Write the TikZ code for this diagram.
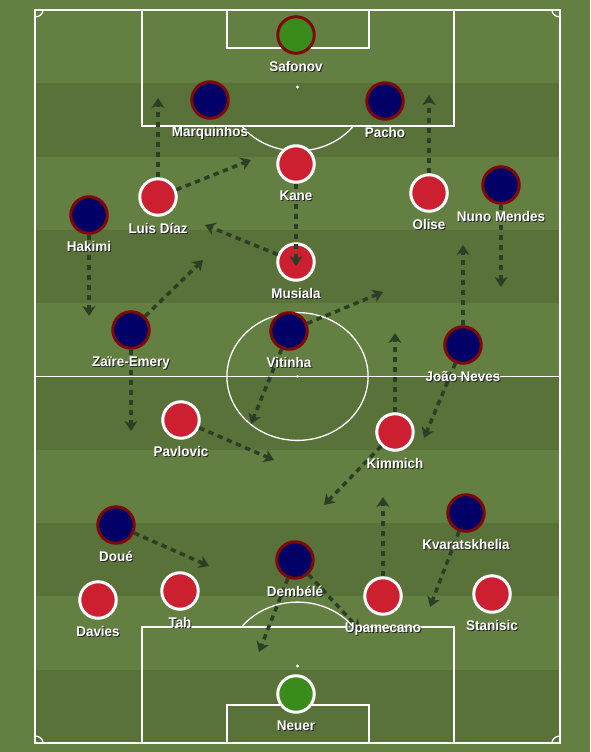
\documentclass[tikz,border=0pt]{standalone}
\usepackage{fontspec}
\newfontfamily\tagfont{Liberation Sans}[FakeStretch=0.96]
\usetikzlibrary{arrows.meta}

\definecolor{grassA}{RGB}{99,128,66}
\definecolor{grassB}{RGB}{88,114,58}
\definecolor{bayred}{RGB}{204,32,48}
\definecolor{psgblue}{RGB}{0,0,102}
\definecolor{psgrim}{RGB}{128,8,8}
\definecolor{keeper}{RGB}{58,138,28}
\definecolor{runcol}{RGB}{45,62,38}

% name/x/y/style/label
\newcommand\squad{safonov/296/35/gkpsg/Safonov,
  marquinhos/210/100/psg/Marquinhos, pacho/385/101/psg/Pacho,
  hakimi/89/215/psg/Hakimi, mendes/501/185/psg/Nuno Mendes,
  zaire/131/330/psg/Zaïre-Emery, vitinha/289/331/psg/Vitinha,
  neves/463/345/psg/João Neves, doue/116/525/psg/Doué,
  dembele/295/560/psg/Dembélé, kvara/466/513/psg/Kvaratskhelia,
  kane/296/164/bayern/Kane, diaz/158/197/bayern/Luis Díaz,
  olise/429/193/bayern/Olise, musiala/296/262/bayern/Musiala,
  pavlovic/181/420/bayern/Pavlovic, kimmich/395/432/bayern/Kimmich,
  davies/98/600/bayern/Davies, tah/180/591/bayern/Tah,
  upamecano/383/596/bayern/Upamecano, stanisic/492/594/bayern/Stanisic,
  neuer/296/694/gkbay/Neuer}

\begin{document}
\begin{tikzpicture}[x=1pt,y=-1pt,
    pitchline/.style={draw=white, line width=1.3pt},
    bayern/.style={circle, fill=bayred, draw=white, line width=3pt,
      minimum size=36.5pt, inner sep=0pt},
    psg/.style={bayern, fill=psgblue, draw=psgrim},
    gkpsg/.style={psg, fill=keeper},
    gkbay/.style={bayern, fill=keeper},
    run/.style={draw=runcol, line width=3.5pt, dash pattern=on 5.5pt off 4.5pt,
      -{Stealth[length=10pt,width=13pt,inset=3pt]}},
    tag/.style={text=white, font=\tagfont\bfseries\fontsize{14}{16}\selectfont,
      inner sep=0pt, anchor=base},
    tagshadow/.style={tag, text=black!85}]

  \useasboundingbox (0,0) rectangle (590,752);
  \fill[grassA] (0,0) rectangle (590,752);

  % stripes
  \foreach \i in {1,3,5,7,9}
    \fill[grassB] (35,{10+73.3*\i}) rectangle (560,{10+73.3*(\i+1)});

  % pitch
  \draw[pitchline] (35,10) rectangle (560,743);
  \draw[pitchline] (35,376.5) -- (560,376.5);
  \draw[pitchline] (297.5,376.5) ellipse [x radius=70.6, y radius=63.9];
  \draw[pitchline] (142,10) rectangle (454,126);
  \draw[pitchline] (227,10) rectangle (369,48);
  \draw[pitchline] (142,743) rectangle (454,627);
  \draw[pitchline] (227,743) rectangle (369,705);
  \foreach \y in {87,376.5,666}
    \fill[white] (297.5,\y) circle (1.6pt);
  \begin{scope}
    \clip (35,126) rectangle (560,376);
    \draw[pitchline] (297.5,87) ellipse [x radius=70.6, y radius=63.9];
  \end{scope}
  \begin{scope}
    \clip (35,377) rectangle (560,627);
    \draw[pitchline] (297.5,666) ellipse [x radius=70.6, y radius=63.9];
  \end{scope}
  \begin{scope}
    \clip (35,10) rectangle (560,743);
    \foreach \cx/\cy in {35/10,560/10,35/743,560/743}
      \draw[pitchline] (\cx,\cy) ellipse [x radius=8, y radius=7];
  \end{scope}

  % players
  \foreach \nm/\x/\y/\kind/\txt in \squad
    \node[style=\kind] (\nm) at (\x,\y) {};

  % runs
  \draw[run] (diaz) -- (158,98);
  \draw[run] (diaz) -- (251,160);
  \draw[run] (olise) -- (429,95);
  \draw[run] (musiala) -- (205,225);
  \draw[run] (kane) -- (296,266);
  \draw[run] (mendes) -- (501,287);
  \draw[run] (hakimi) -- (89,316);
  \draw[run] (zaire) -- (203,260);
  \draw[run] (neves) -- (463,245);
  \draw[run] (vitinha) -- (383,292);
  \draw[run] (zaire) -- (131,431);
  \draw[run] (vitinha) -- (251,424);
  \draw[run] (kimmich) -- (395,333);
  \draw[run] (neves) -- (424,438);
  \draw[run] (pavlovic) -- (274,460);
  \draw[run] (kimmich) -- (324,505);
  \draw[run] (upamecano) -- (383,497);
  \draw[run] (doue) -- (209,566);
  \draw[run] (kvara) -- (430,607);
  \draw[run] (dembele) -- (259,652);
  \draw[run] (dembele) -- (360,630);

  % names
  \foreach \nm/\x/\y/\kind/\txt in \squad {
    \node[tagshadow] (\nm-s) at ({\x+1},{\y+37.5}) {\txt};
    \node[tag] (\nm-t) at (\x,{\y+36.5}) {\txt};
  }
\end{tikzpicture}
\end{document}
